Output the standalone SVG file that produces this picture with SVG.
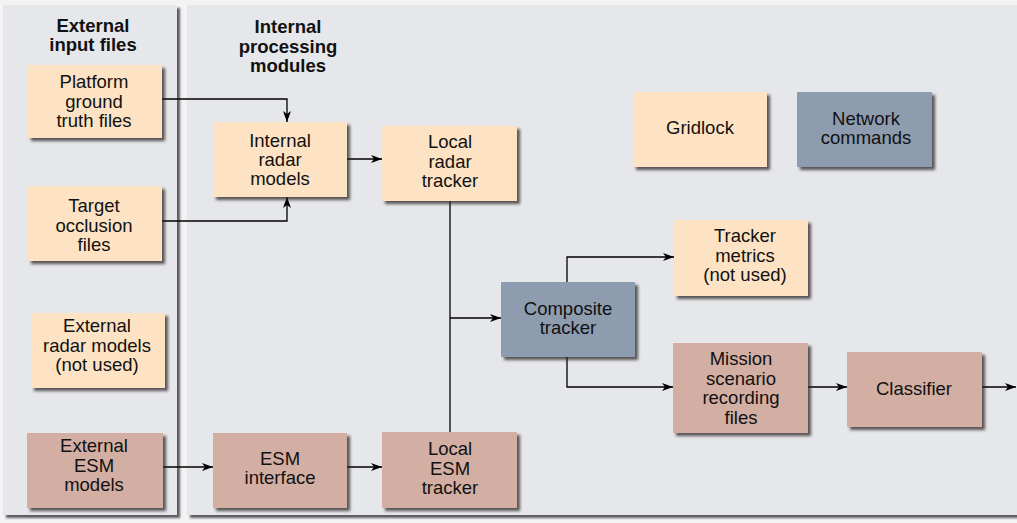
<svg xmlns="http://www.w3.org/2000/svg" width="1017" height="523" viewBox="0 0 1017 523">
<style>
.bg{fill:#f3f3f4}
.panel{fill:#e6e7ea}
.peach{fill:#fde3c3}
.brown{fill:#d3aea3}
.blue{fill:#8e9cb0}
.box{filter:url(#sh)}
text{font-family:"Liberation Sans",Arial,sans-serif;font-size:18.5px;fill:#111;text-anchor:middle}
.head{font-weight:bold}
.conn path{fill:none;stroke:#000;stroke-width:1.3}
</style>
<defs>
<filter id="sh" x="-10%" y="-10%" width="130%" height="130%">
<feDropShadow dx="3" dy="3" stdDeviation="1.6" flood-color="#2a2420" flood-opacity="0.75"/>
</filter>
<filter id="psh" x="-5%" y="-5%" width="110%" height="110%">
<feDropShadow dx="3" dy="3" stdDeviation="1.2" flood-color="#404145" flood-opacity="0.85"/>
</filter>
<marker id="arr" markerWidth="12" markerHeight="8" refX="11" refY="4" orient="auto" markerUnits="userSpaceOnUse">
<path d="M0,0 L11,4 L0,8 L3,4 z" fill="#000"/>
</marker>
</defs>
<rect class="bg" x="0" y="0" width="1017" height="523"/>
<g id="panels">
<rect class="panel" x="3" y="5" width="174" height="510" filter="url(#psh)"/>
<rect class="panel" x="187" y="5" width="835" height="510" filter="url(#psh)"/>
</g>
<g id="headings">
<text class="head" x="93" y="31.5">External</text>
<text class="head" x="93" y="51">input files</text>
<text class="head" x="288" y="33">Internal</text>
<text class="head" x="288" y="52.5">processing</text>
<text class="head" x="288" y="72">modules</text>
</g>
<g class="conn" id="connectors">
<path d="M162,99 H287 V122" marker-end="url(#arr)"/>
<path d="M162,221 H287 V197" marker-end="url(#arr)"/>
<path d="M347,159 H382" marker-end="url(#arr)"/>
<path d="M450,201 V432"/>
<path d="M450,318 H501" marker-end="url(#arr)"/>
<path d="M567,282 V257 H674" marker-end="url(#arr)"/>
<path d="M567,357 V387 H673" marker-end="url(#arr)"/>
<path d="M808,387 H847" marker-end="url(#arr)"/>
<path d="M982,387 H1016" marker-end="url(#arr)"/>
<path d="M163,467 H213" marker-end="url(#arr)"/>
<path d="M347,467 H382" marker-end="url(#arr)"/>
</g>
<g id="platform">
<rect class="box peach" x="28" y="65" width="134" height="73"/>
<text x="94" y="88">Platform</text><text x="94" y="107.5">ground</text><text x="94" y="127">truth files</text>
</g>
<g id="occlusion">
<rect class="box peach" x="28" y="186" width="134" height="75"/>
<text x="94" y="212">Target</text><text x="94" y="231.5">occlusion</text><text x="94" y="251">files</text>
</g>
<g id="extradar">
<rect class="box peach" x="31" y="313" width="134" height="75"/>
<text x="97" y="332">External</text><text x="97" y="351.5">radar models</text><text x="97" y="371">(not used)</text>
</g>
<g id="extesm">
<rect class="box brown" x="27" y="433" width="136" height="75"/>
<text x="94" y="452">External</text><text x="94" y="471.5">ESM</text><text x="94" y="491">models</text>
</g>
<g id="intradar">
<rect class="box peach" x="213" y="122" width="134" height="75"/>
<text x="280" y="147">Internal</text><text x="280" y="166">radar</text><text x="280" y="185">models</text>
</g>
<g id="esmif">
<rect class="box brown" x="213" y="433" width="134" height="75"/>
<text x="280" y="465">ESM</text><text x="280" y="484">interface</text>
</g>
<g id="localradar">
<rect class="box peach" x="382" y="126" width="135" height="75"/>
<text x="450" y="148">Local</text><text x="450" y="168">radar</text><text x="450" y="187">tracker</text>
</g>
<g id="localesm">
<rect class="box brown" x="382" y="432" width="135" height="76"/>
<text x="450" y="455">Local</text><text x="450" y="474.5">ESM</text><text x="450" y="494">tracker</text>
</g>
<g id="composite">
<rect class="box blue" x="501" y="282" width="134" height="75"/>
<text x="568" y="315">Composite</text><text x="568" y="334">tracker</text>
</g>
<g id="gridlock">
<rect class="box peach" x="633" y="92" width="134" height="75"/>
<text x="700" y="134">Gridlock</text>
</g>
<g id="network">
<rect class="box blue" x="797" y="92" width="135" height="75"/>
<text x="866" y="124.5">Network</text><text x="866" y="144">commands</text>
</g>
<g id="metrics">
<rect class="box peach" x="674" y="220" width="134" height="76"/>
<text x="745" y="242">Tracker</text><text x="745" y="261.5">metrics</text><text x="745" y="281">(not used)</text>
</g>
<g id="mission">
<rect class="box brown" x="673" y="343" width="135" height="90"/>
<text x="741" y="365">Mission</text><text x="741" y="384.5">scenario</text><text x="741" y="404">recording</text><text x="741" y="423.5">files</text>
</g>
<g id="classifier">
<rect class="box brown" x="847" y="352" width="135" height="75"/>
<text x="914" y="395">Classifier</text>
</g>
</svg>
